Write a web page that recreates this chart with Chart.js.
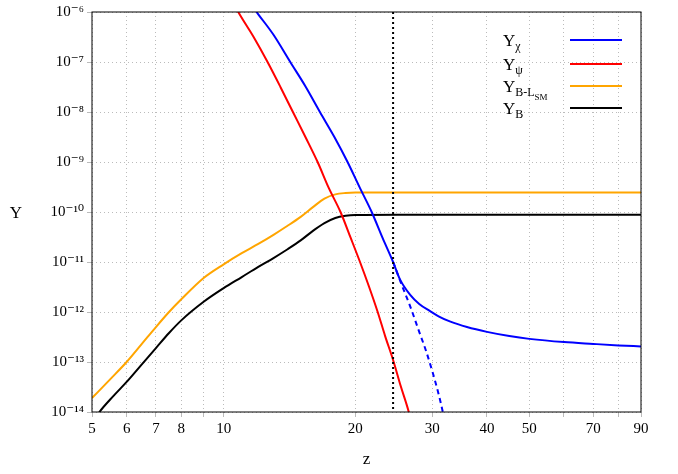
<!DOCTYPE html>
<html><head><meta charset="utf-8">
<script src="https://cdn.jsdelivr.net/npm/chart.js@4/dist/chart.umd.min.js"></script>
<style>html,body{margin:0;padding:0;background:#fff}#c{width:678px;height:474px}</style>
</head><body><div id="c"><canvas id="cv" width="678" height="474"></canvas></div>
<script>
const xTicks=[5,6,7,8,9,10,20,30,40,50,60,70,80,90];
const xLabeled=[5,6,7,8,10,20,30,40,50,70,90];
const yTicks=[-14,-13,-12,-11,-10,-9,-8,-7,-6];
const zDotted=24.4;
const chiZ=[11.5,12,13,14.2,15.4,16.6,17.9,19.2,20.5,21.8,23.1,24.4,25.3,26.7,28,29.6,31,33,36,40,45,50,60,70,80,90];
const chiY=[1.5e-6,9e-7,3.5e-7,1e-7,3.2e-8,1e-8,3.2e-9,1e-9,3e-10,1e-10,3e-11,1e-11,4.5e-12,2.2e-12,1.45e-12,1.05e-12,8.2e-13,6.4e-13,5e-13,4e-13,3.3e-13,2.9e-13,2.5e-13,2.3e-13,2.15e-13,2.05e-13];
const chiDZ=[24.4,25.5,26.7,28,29,30,31,31.7,32.2];
const chiDY=[1e-11,3.6e-12,1.3e-12,4e-13,1.7e-13,6.5e-14,2.3e-14,1e-14,5e-15];
const psiZ=[10.5,10.8,11.7,12.6,13.5,14.4,15.4,16.4,17.4,18.5,19.5,20.5,21.5,22.5,23.4,24.4,25.4,26.5,27];
const psiY=[1.6e-6,1e-6,3.2e-7,1e-7,3.1e-8,1e-8,3.1e-9,1e-9,3e-10,1e-10,3.1e-11,1e-11,3.2e-12,1e-12,3.3e-13,1.1e-13,3.3e-14,1e-14,5e-15];
const bslZ=[5,5.5,6,6.5,7,7.5,8,9,10,11,12,13,14,15,16,17,18,19,20,25,30,40,60,90];
const bslY=[1.9e-14,4.5e-14,1e-13,2.3e-13,5e-13,1e-12,1.8e-12,4.8e-12,9e-12,1.5e-11,2.3e-11,3.5e-11,5.3e-11,8e-11,1.25e-10,1.85e-10,2.25e-10,2.4e-10,2.45e-10,2.45e-10,2.45e-10,2.45e-10,2.45e-10,2.45e-10];
const bZ=[5,5.2,5.6,6,6.5,7,7.5,8,9,10,11,12,13,14,15,16,17,18,19,20,25,30,40,60,90];
const bY=[6e-15,1e-14,2.1e-14,4e-14,9e-14,1.9e-13,3.8e-13,6.8e-13,1.6e-12,3e-12,5e-12,8e-12,1.2e-11,1.8e-11,2.7e-11,4.2e-11,6e-11,7.6e-11,8.4e-11,8.7e-11,8.8e-11,8.8e-11,8.8e-11,8.8e-11,8.8e-11];
const pts=(xs,ys)=>xs.map((x,i)=>({x:x,y:ys[i]}));
const sup=n=>String(n).split('').map(c=>({'-':'⁻','0':'⁰','1':'¹','2':'²','3':'³','4':'⁴','5':'⁵','6':'⁶','7':'⁷','8':'⁸','9':'⁹'}[c])).join('');
const F='"Liberation Serif", "DejaVu Serif", serif';
const ds=(d,c,dash)=>({data:d,borderColor:c,borderWidth:2,pointRadius:0,cubicInterpolationMode:'monotone',borderDash:dash||[],fill:false});
const extras={id:'extras',afterDatasetsDraw(ch){
  const c=ch.ctx,a=ch.chartArea,x=ch.scales.x;
  c.save();
  const px=x.getPixelForValue(zDotted);
  c.strokeStyle='#000';c.lineWidth=2;c.setLineDash([2,3]);
  c.beginPath();c.moveTo(px,a.top);c.lineTo(px,a.bottom);c.stroke();
  c.setLineDash([]);c.lineWidth=1;c.strokeRect(a.left,a.top,a.right-a.left,a.bottom-a.top);
  const items=[['Y','χ','',  '#0000ff',40],['Y','ψ','','#ff0000',64],['Y','B-L','SM','#ffa500',86],['Y','B','','#000000',108]];
  c.fillStyle='#000';c.textBaseline='alphabetic';
  items.forEach(it=>{
    let tx=503,ty=it[4]+6;
    c.font='17px '+F;c.fillText(it[0],tx,ty);tx+=c.measureText(it[0]).width;
    c.font='12px '+F;c.fillText(it[1],tx,ty+4);tx+=c.measureText(it[1]).width;
    if(it[2]){c.font='9px '+F;c.fillText(it[2],tx,ty+8);}
    c.strokeStyle=it[3];c.lineWidth=2;c.beginPath();c.moveTo(570,it[4]);c.lineTo(622,it[4]);c.stroke();
  });
  c.font='17px '+F;c.textAlign='center';c.fillText('Y',16,218);
  c.restore();
}};
new Chart(document.getElementById('cv'),{type:'line',
 data:{datasets:[ds(pts(chiZ,chiY),'#0000ff'),ds(pts(chiDZ,chiDY),'#0000ff',[5,4]),ds(pts(psiZ,psiY),'#ff0000'),ds(pts(bslZ,bslY),'#ffa500'),ds(pts(bZ,bY),'#000000')]},
 options:{responsive:false,animation:false,layout:{padding:{top:10,right:37,left:0,bottom:0}},
  plugins:{legend:{display:false},tooltip:{enabled:false}},
  scales:{
   x:{type:'logarithmic',min:5,max:90,
    afterBuildTicks:s=>{s.ticks=xTicks.map(v=>({value:v}));},
    afterFit:s=>{s.height=62;},
    ticks:{autoSkip:false,maxRotation:0,color:'#000',font:{family:F,size:15},callback:v=>xLabeled.includes(v)?String(v):''},
    grid:{color:'#bbb',lineWidth:1,drawTicks:true,tickLength:5},border:{dash:[1,3],display:false},
    title:{display:true,text:'z',color:'#000',font:{family:F,size:17},padding:{top:0}}},
   y:{type:'logarithmic',min:1e-14,max:1e-6,
    afterBuildTicks:s=>{s.ticks=yTicks.map(e=>({value:Math.pow(10,e)}));},
    afterFit:s=>{s.width=92;},
    ticks:{autoSkip:false,color:'#000',font:{family:F,size:15},callback:v=>'10'+sup(Math.round(Math.log10(v)))},
    grid:{color:'#bbb',lineWidth:1,tickLength:5},border:{dash:[1,3],display:false},
    title:{display:false}}
  }},
 plugins:[extras]});
</script></body></html>
